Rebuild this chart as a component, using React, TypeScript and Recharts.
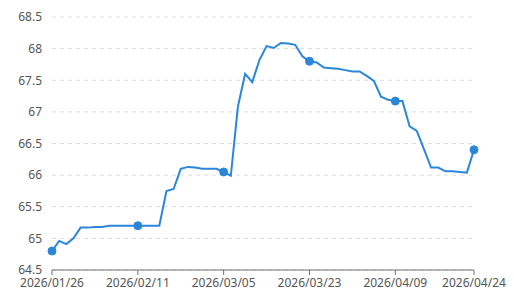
import React from "react";
import { LineChart, Line, XAxis, YAxis, CartesianGrid } from "recharts";

const dates: string[] = [
  "2026/01/26", "2026/01/27", "2026/01/28", "2026/01/29", "2026/01/30", "2026/02/02", "2026/02/03", "2026/02/04", "2026/02/05", "2026/02/06", "2026/02/09", "2026/02/10",
  "2026/02/11", "2026/02/12", "2026/02/13", "2026/02/23", "2026/02/24", "2026/02/25", "2026/02/26", "2026/02/27", "2026/02/28", "2026/03/02", "2026/03/03", "2026/03/04",
  "2026/03/05", "2026/03/06", "2026/03/09", "2026/03/10", "2026/03/11", "2026/03/12", "2026/03/13", "2026/03/16", "2026/03/17", "2026/03/18", "2026/03/19", "2026/03/20",
  "2026/03/23", "2026/03/24", "2026/03/25", "2026/03/26", "2026/03/27", "2026/03/30", "2026/03/31", "2026/04/01", "2026/04/02", "2026/04/03", "2026/04/07", "2026/04/08",
  "2026/04/09", "2026/04/10", "2026/04/13", "2026/04/14", "2026/04/15", "2026/04/16", "2026/04/17", "2026/04/20", "2026/04/21", "2026/04/22", "2026/04/23",
  "2026/04/24",
];

const values: number[] = [
  64.8, 64.96, 64.91, 65.0, 65.17, 65.17, 65.18, 65.18, 65.2, 65.2, 65.2, 65.2,
  65.2, 65.2, 65.2, 65.2, 65.75, 65.78, 66.1, 66.13, 66.12, 66.1, 66.1, 66.1,
  66.05, 65.99, 67.09, 67.6, 67.47, 67.82, 68.04, 68.01, 68.09, 68.08, 68.06, 67.88,
  67.8, 67.78, 67.7, 67.69, 67.68, 67.66, 67.64, 67.64, 67.57, 67.49, 67.24, 67.19,
  67.17, 67.17, 66.77, 66.7, 66.41, 66.12, 66.12, 66.06, 66.06, 66.05, 66.04,
  66.4,
];

const xTicks: string[] = ["2026/01/26", "2026/02/11", "2026/03/05", "2026/03/23", "2026/04/09", "2026/04/24"];
const yTicks: number[] = [64.5, 65, 65.5, 66, 66.5, 67, 67.5, 68, 68.5];

const data = dates.map((d, i) => ({ date: d, value: values[i] }));

const COLOR = "#2b86d9";
const FONT = "'Noto Sans', sans-serif";

const MarkDot = (props: any) => {
  const { cx, cy, payload, index } = props;
  if (!xTicks.includes(payload.date)) return <g key={"d" + index} />;
  return <circle key={"d" + index} cx={cx} cy={cy} r={4} fill={COLOR} stroke={COLOR} strokeWidth={1} />;
};

export default function App() {
  return (
    <div style={{ position: "absolute", left: 0, top: 0, width: 514, height: 301, background: "#fff" }}>
      <LineChart width={514} height={301} data={data} margin={{ top: 17, right: 40, bottom: 1, left: 0 }}>
        <CartesianGrid vertical={false} stroke="#dcdcdc" strokeDasharray="4 4" />
        <XAxis
          dataKey="date"
          ticks={xTicks}
          interval={0}
          height={30}
          tickSize={5}
          tickMargin={3}
          stroke="#6e7079"
          tick={{ fill: "#555", fontSize: 12, fontFamily: FONT }}
        />
        <YAxis
          domain={[64.5, 68.5]}
          ticks={yTicks}
          width={52}
          axisLine={false}
          tickLine={false}
          tickMargin={4}
          tick={{ fill: "#555", fontSize: 12, fontFamily: FONT }}
        />
        <Line
          type="linear"
          dataKey="value"
          stroke={COLOR}
          strokeWidth={2}
          dot={<MarkDot />}
          activeDot={false}
          isAnimationActive={false}
        />
      </LineChart>
    </div>
  );
}
